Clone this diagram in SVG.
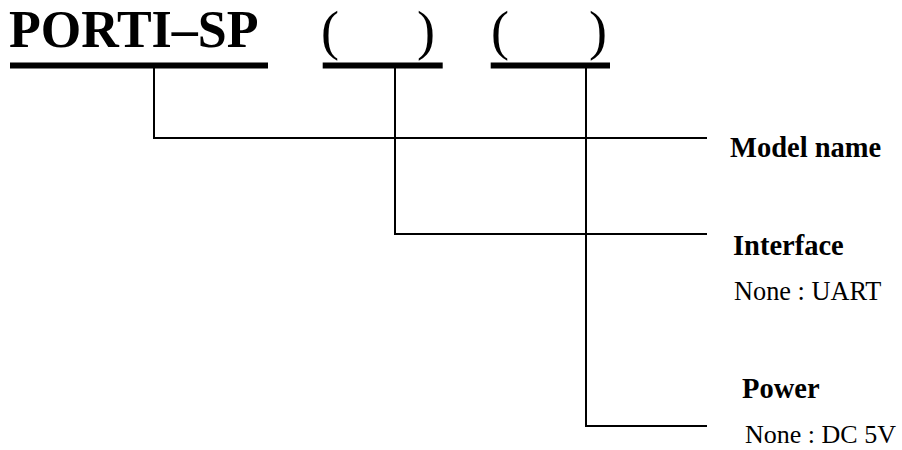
<svg xmlns="http://www.w3.org/2000/svg" width="902" height="450" viewBox="0 0 902 450">
<style>
.t{font-family:"Liberation Serif","Times New Roman",serif;fill:#000}
.b{font-weight:bold}
.p{font-size:54px}
.bar{fill:#000}
.c{fill:none;stroke:#000;stroke-width:2}
</style>
<rect width="902" height="450" fill="#fff"/>
<g id="title">
<text class="t b" x="9" y="47" font-size="52">PORTI–SP</text>
<rect class="bar" x="10" y="62.5" width="258" height="6"/>
</g>
<g id="slot1">
<text class="t p" x="321" y="48.5">(</text>
<text class="t p" x="417" y="48.5">)</text>
<rect class="bar" x="322.7" y="62.5" width="120" height="6"/>
</g>
<g id="slot2">
<text class="t p" x="491" y="48.5">(</text>
<text class="t p" x="589" y="48.5">)</text>
<rect class="bar" x="490.7" y="62.5" width="119.3" height="6"/>
</g>
<g id="connectors">
<polyline class="c" points="154,68 154,138 707,138"/>
<polyline class="c" points="395,68 395,234 707,234"/>
<polyline class="c" points="586,68 586,426 707,426"/>
</g>
<g id="model">
<text class="t b" x="730" y="157" font-size="28.5">Model name</text>
</g>
<g id="interface">
<text class="t b" x="733" y="255" font-size="28.5">Interface</text>
<text class="t" x="734" y="300" font-size="26.3">None : UART</text>
</g>
<g id="power">
<text class="t b" x="742" y="398" font-size="28.5">Power</text>
<text class="t" x="745" y="443" font-size="26">None : DC 5V</text>
</g>
</svg>
